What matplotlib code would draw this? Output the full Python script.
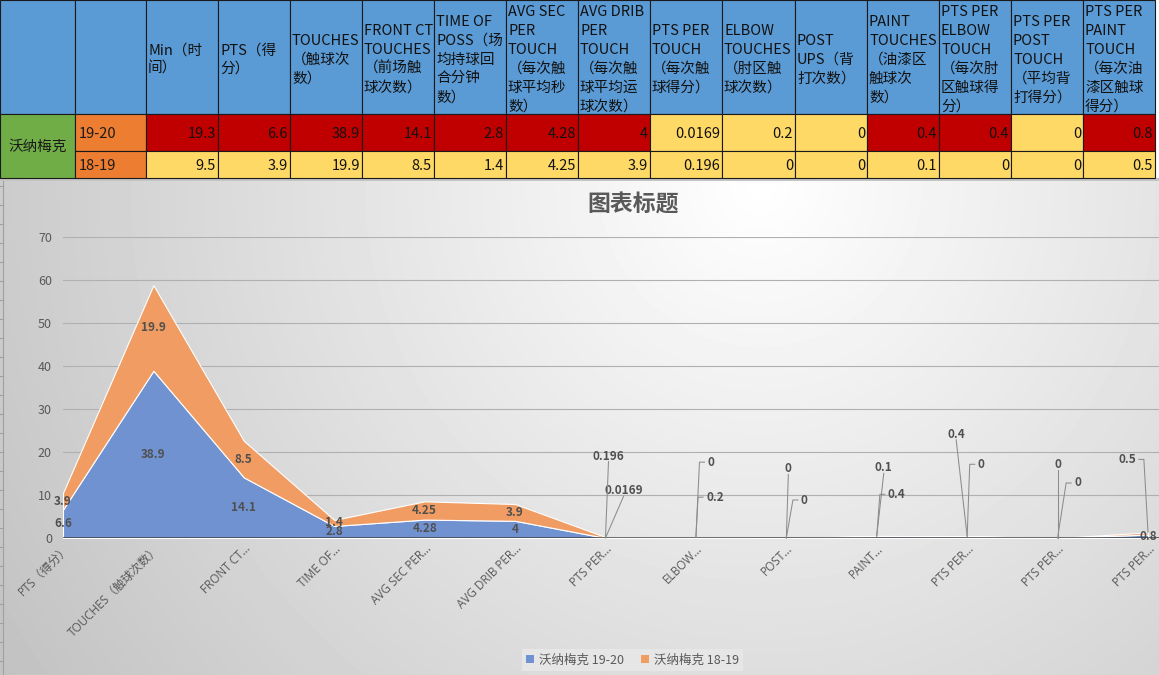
import numpy as np
import matplotlib
matplotlib.use("Agg")
import matplotlib.pyplot as plt
from matplotlib.patches import Rectangle, Patch
from matplotlib.lines import Line2D
import matplotlib.transforms as mtransforms

plt.rcParams['font.family'] = ['Noto Sans CJK SC', 'DejaVu Sans']

# ---------------- data ----------------
player = "沃纳梅克"
seasons = ["19-20", "18-19"]
header_lines = [
    ["Min（时", "间）"],
    ["PTS（得", "分）"],
    ["TOUCHES", "（触球次", "数）"],
    ["FRONT CT", "TOUCHES", "（前场触", "球次数）"],
    ["TIME OF", "POSS（场", "均持球回", "合分钟", "数）"],
    ["AVG SEC", "PER", "TOUCH", "（每次触", "球平均秒", "数）"],
    ["AVG DRIB", "PER", "TOUCH", "（每次触", "球平均运", "球次数）"],
    ["PTS PER", "TOUCH", "（每次触", "球得分）"],
    ["ELBOW", "TOUCHES", "（肘区触", "球次数）"],
    ["POST", "UPS（背", "打次数）"],
    ["PAINT", "TOUCHES", "（油漆区", "触球次", "数）"],
    ["PTS PER", "ELBOW", "TOUCH", "（每次肘", "区触球得", "分）"],
    ["PTS PER", "POST", "TOUCH", "（平均背", "打得分）"],
    ["PTS PER", "PAINT", "TOUCH", "（每次油", "漆区触球", "得分）"],
]
values_1920 = [19.3, 6.6, 38.9, 14.1, 2.8, 4.28, 4, 0.0169, 0.2, 0, 0.4, 0.4, 0, 0.8]
values_1819 = [9.5, 3.9, 19.9, 8.5, 1.4, 4.25, 3.9, 0.196, 0, 0, 0.1, 0, 0, 0.5]
highlight_1920 = [True, True, True, True, True, True, True,
                  False, False, False, True, True, False, True]
chart_labels = ["PTS（得分）", "TOUCHES（触球次数）", "FRONT CT…", "TIME OF…",
                "AVG SEC PER…", "AVG DRIB PER…", "PTS PER…", "ELBOW…", "POST…",
                "PAINT…", "PTS PER…", "PTS PER…", "PTS PER…"]
chart_title = "图表标题"

# ---------------- styling / layout ----------------
W, H = 1159, 675
BLUE_HDR = "#5B9BD5"
GREEN = "#70AD47"
ORANGE_CELL = "#ED7D31"
RED = "#C00000"
YELLOW = "#FFD966"
AREA_BLUE = "#7092D0"
AREA_ORANGE = "#F09C63"
TXT = "#595959"
LBL = "#505050"

col_edges = [0, 75, 146, 218, 290, 362, 434, 506, 578, 650, 722, 795, 867, 939, 1011, 1083, 1155]
row_edges = [0, 114, 151, 178]

fig = plt.figure(figsize=(W / 100, H / 100), dpi=100)
fig.patch.set_facecolor("white")

# background axes in pixel coordinates
bg = fig.add_axes([0, 0, 1, 1])
bg.set_xlim(0, W)
bg.set_ylim(H, 0)
bg.axis("off")

# chart area gradient
yy, xx = np.mgrid[181:H, 0:W]
d = np.hypot(xx - 760, yy - 185)
g = 1.0 - 0.24 * np.clip(d / 900.0, 0, 1)
bg.imshow(g, cmap="gray", vmin=0, vmax=1, extent=(0, W, H, 181),
          aspect="auto", interpolation="bilinear", zorder=0)
bg.add_patch(Rectangle((0, 178), W, 3, facecolor="#c4c4c4", edgecolor="none", zorder=1))
# spreadsheet strip at the left
bg.plot([2.5, 2.5], [181, H], color="#a0a0a0", lw=0.8, zorder=2)
for yt in np.arange(186, H, 19):
    bg.plot([0, 2.5], [yt, yt], color="#a0a0a0", lw=0.8, zorder=2)

# ---------------- table ----------------
def cell(x0, x1, y0, y1, fc):
    bg.add_patch(Rectangle((x0, y0), x1 - x0, y1 - y0, facecolor=fc,
                           edgecolor="#1a1a1a", lw=0.8, zorder=3))

FS_T = 10.5
for c in range(len(col_edges) - 1):
    cell(col_edges[c], col_edges[c + 1], row_edges[0], row_edges[1], BLUE_HDR)
# player cell (merged)
cell(col_edges[0], col_edges[1], row_edges[1], row_edges[3], GREEN)
bg.text((col_edges[0] + col_edges[1]) / 2, (row_edges[1] + row_edges[3]) / 2 + 1, player,
        ha="center", va="center", fontsize=FS_T, color="#1a1a1a", zorder=4)
for r, s in enumerate(seasons):
    y0, y1 = row_edges[r + 1], row_edges[r + 2]
    cell(col_edges[1], col_edges[2], y0, y1, ORANGE_CELL)
    bg.text(col_edges[1] + 4, (y0 + y1) / 2 + 1, s, ha="left", va="center",
            fontsize=FS_T, color="#1a1a1a", zorder=4)

line_gap = 18.8
for c, lines in enumerate(header_lines):
    x0 = col_edges[c + 2]
    n = len(lines)
    start = 59.5 - (n - 1) * line_gap / 2
    for k, ln in enumerate(lines):
        bg.text(x0 + 2, start + k * line_gap, ln, ha="left", va="center",
                fontsize=FS_T, color="#111111", zorder=4)

for c in range(len(values_1920)):
    x0, x1 = col_edges[c + 2], col_edges[c + 3]
    fc = RED if highlight_1920[c] else YELLOW
    cell(x0, x1, row_edges[1], row_edges[2], fc)
    bg.text(x1 - 2, (row_edges[1] + row_edges[2]) / 2 + 1, f"{values_1920[c]:g}",
            ha="right", va="center", fontsize=FS_T, color="#111111", zorder=4)
    cell(x0, x1, row_edges[2], row_edges[3], YELLOW)
    bg.text(x1 - 2, (row_edges[2] + row_edges[3]) / 2 + 1, f"{values_1819[c]:g}",
            ha="right", va="center", fontsize=FS_T, color="#111111", zorder=4)

# ---------------- chart ----------------
fig.text(633 / W, 1 - 205 / H, chart_title, ha="center", va="center",
         fontsize=16.5, color=TXT, fontweight="bold")

step = (1148 - 63) / 12.0
ax = fig.add_axes([63 / W, 1 - 538 / H, (W - 63) / W, (538 - 237) / H])
ax.patch.set_alpha(0)
ax.set_zorder(2)
ax.set_xlim(0, (W - 63) / step)
ax.set_ylim(0, 70)
for sp in ax.spines.values():
    sp.set_visible(False)

s_blue = np.array(values_1920[1:])
s_orange = np.array(values_1819[1:])
x = np.arange(len(chart_labels))

ax.yaxis.grid(True, color="#b0b0b0", lw=0.8)
ax.set_axisbelow(True)
ax.stackplot(x, s_blue, s_orange, colors=[AREA_BLUE, AREA_ORANGE],
             edgecolor="white", linewidth=0.8, zorder=2)
ax.axhline(0, color="#404040", lw=1.8, zorder=5)

ax.set_yticks(np.arange(0, 80, 10))
ax.tick_params(axis="y", length=0, pad=8, labelsize=9, labelcolor=TXT)
ax.set_xticks(x)
ax.set_xticklabels(chart_labels, rotation=45, ha="right", va="top",
                   rotation_mode="anchor", fontsize=8.5, color=TXT,
                   family=["Open Sans", "Noto Sans CJK SC"])
ax.tick_params(axis="x", length=0, pad=3)

# data labels: (category, series) -> (dx px, dy px up, leader style)
callouts = {
    (6, 1): (3, 81, "below"), (6, 0): (18, 47, "below"),
    (7, 1): (15, 75, "left"), (7, 0): (19, 40, "left"),
    (8, 1): (2, 69, "below"), (8, 0): (18, 38, "left"),
    (9, 1): (7, 68, "below"), (9, 0): (20, 42, "left"),
    (10, 0): (-11, 102, "below"), (10, 1): (14, 72, "left"),
    (11, 1): (0, 74, "below"), (11, 0): (20, 55, "left"),
    (12, 1): (-21, 73, "right"),
}
renderer = fig.canvas.get_renderer()
leaders = []
for i in x:
    for sidx, (vals, base) in enumerate([(s_blue, 0 * s_blue), (s_orange, s_blue)]):
        v = vals[i]
        lab = f"{v:g}"
        key = (i, sidx)
        if key in callouts:
            dx, dy, style = callouts[key]
            cum = base[i] + v
            t = ax.annotate(lab, xy=(i, cum), xytext=(dx * 0.72, dy * 0.72),
                            textcoords="offset points", ha="center", va="center",
                            fontsize=8.5, fontweight="bold", color=LBL, zorder=6,
                            annotation_clip=False)
            leaders.append((t, (i, cum), style))
        else:
            ax.text(i, base[i] + v / 2, lab, ha="center", va="center",
                    fontsize=8.5, fontweight="bold", color=LBL, zorder=4,
                    clip_on=False)

for t, xy, style in leaders:
    bb = t.get_window_extent(renderer)
    ax_, ay_ = ax.transData.transform(xy)
    yc = (bb.y0 + bb.y1) / 2
    if style == "below":
        xs, ys = [ax_, (bb.x0 + bb.x1) / 2], [ay_, bb.y0 + 1]
    elif style == "left":
        xs, ys = [ax_, bb.x0 - 8, bb.x0 - 3], [ay_, yc, yc]
    else:
        xs, ys = [ax_, bb.x1 + 8, bb.x1 + 3], [ay_, yc, yc]
    fig.add_artist(Line2D(xs, ys, color="#8c8c8c", lw=0.75,
                          transform=mtransforms.IdentityTransform(), zorder=5))

handles = [Patch(facecolor=AREA_BLUE), Patch(facecolor=AREA_ORANGE)]
leg = fig.legend(handles, [f"{player} {s}" for s in seasons], loc="center",
                 bbox_to_anchor=(632.5 / W, 1 - 660 / H), ncol=2, frameon=True,
                 facecolor="#e6e6e6", edgecolor="none", framealpha=1, fancybox=False,
                 fontsize=9, labelcolor=TXT, handlelength=0.6, handleheight=0.6,
                 handletextpad=0.4, columnspacing=1.4, borderpad=0.35)

fig.savefig("out.png", dpi=100)
